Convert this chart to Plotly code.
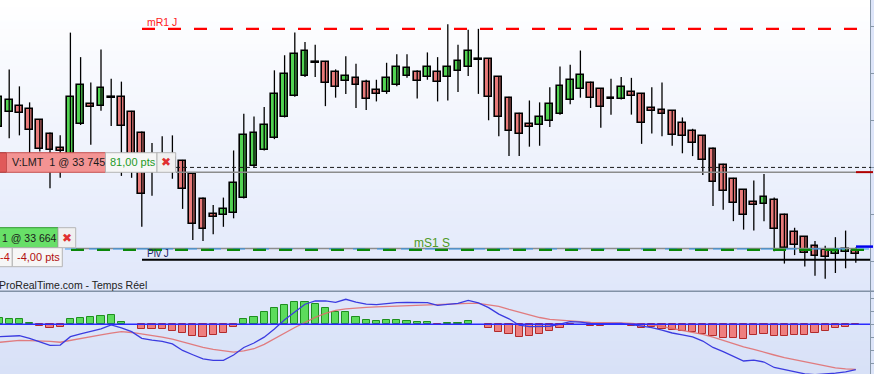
import plotly.graph_objects as go

# ---------------- data ----------------
opens = [33793, 33809, 33815, 33812, 33800, 33785, 33771, 33755, 33796, 33817,
         33815, 33825, 33825, 33809, 33787, 33763, 33758, 33749, 33757, 33743,
         33717, 33701, 33699, 33702, 33718, 33751, 33769, 33781, 33804, 33826,
         33847, 33861, 33862, 33851, 33842, 33845, 33841, 33832, 33830, 33837,
         33847, 33851, 33846, 33851, 33846, 33852, 33857, 33865, 33865, 33846,
         33824, 33807, 33796, 33795, 33799, 33807, 33822, 33833, 33840, 33833,
         33824, 33823, 33830, 33828, 33813, 33811, 33810, 33797, 33789, 33783,
         33770, 33753, 33738, 33726, 33713, 33711, 33715, 33700, 33682, 33676,
         33667, 33662, 33658, 33660, 33661]
highs = [33830, 33854, 33836, 33819, 33801, 33787, 33784, 33893, 33867, 33840,
         33875, 33844, 33841, 33810, 33788, 33776, 33783, 33784, 33758, 33744,
         33718, 33710, 33718, 33768, 33807, 33804, 33814, 33853, 33869, 33893,
         33883, 33880, 33863, 33854, 33868, 33860, 33843, 33843, 33861, 33870,
         33870, 33853, 33872, 33867, 33902, 33880, 33896, 33897, 33866, 33847,
         33825, 33808, 33821, 33819, 33835, 33857, 33859, 33874, 33841, 33834,
         33844, 33846, 33845, 33829, 33835, 33840, 33811, 33803, 33791, 33784,
         33771, 33754, 33739, 33727, 33736, 33743, 33718, 33701, 33686, 33677,
         33672, 33667, 33676, 33683, 33665]
lows = [33790, 33781, 33784, 33763, 33767, 33728, 33739, 33748, 33795, 33774,
        33810, 33794, 33741, 33739, 33687, 33720, 33746, 33738, 33706, 33673,
        33672, 33679, 33687, 33696, 33717, 33750, 33768, 33780, 33803, 33825,
        33846, 33846, 33815, 33824, 33828, 33813, 33811, 33820, 33828, 33836,
        33845, 33823, 33843, 33820, 33821, 33830, 33847, 33828, 33800, 33783,
        33762, 33762, 33772, 33773, 33793, 33806, 33817, 33824, 33813, 33792,
        33806, 33822, 33806, 33775, 33786, 33783, 33773, 33765, 33762, 33742,
        33709, 33705, 33693, 33684, 33683, 33693, 33661, 33648, 33657, 33645,
        33635, 33632, 33638, 33643, 33649]
closes = [33825, 33821, 33808, 33790, 33770, 33768, 33767, 33825, 33837, 33814,
          33834, 33824, 33794, 33753, 33722, 33752, 33749, 33760, 33727, 33690,
          33685, 33697, 33706, 33734, 33784, 33787, 33795, 33828, 33849, 33870,
          33873, 33862, 33840, 33835, 33847, 33837, 33823, 33828, 33845, 33857,
          33855, 33842, 33856, 33841, 33856, 33863, 33874, 33864, 33825, 33804,
          33789, 33785, 33793, 33803, 33817, 33836, 33843, 33848, 33824, 33814,
          33823, 33835, 33826, 33797, 33810, 33807, 33784, 33783, 33776, 33758,
          33735, 33725, 33712, 33699, 33710, 33719, 33685, 33665, 33668, 33659,
          33656, 33655, 33662, 33663, 33658]

macd_line = [-9.5, -9.2, -8.8, -10.8, -13.4, -16.2, -16.0, -9.5, -7.3, -5.5,
             -3.6, -0.5, -2.7, -5.7, -10.8, -12.2, -13.2, -15.1, -20.1, -23.4,
             -26.6, -27.7, -27.7, -23.6, -17.8, -14.4, -9.9, -3.6, 3.4, 9.4,
             15.4, 17.9, 17.9, 16.8, 19.2, 17.1, 15.5, 15.1, 15.9, 16.6,
             16.9, 16.9, 16.7, 14.5, 15.3, 16.0, 18.4, 16.4, 12.8, 7.8,
             4.2, -0.7, -1.8, -1.8, -1.5, 0.2, 2.0, 1.7, 0.7, 0.5,
             0.6, 0.7, -0.2, -1.6, -2.5, -4.5, -6.7, -8.1, -9.7, -12.9,
             -17.8, -21.0, -24.4, -28.2, -27.6, -29.0, -33.2, -34.8, -36.6, -38.1,
             -38.7, -38.4, -37.6, -36.5, -34.8]
signal_line = [-13.9, -13.2, -12.4, -12.5, -12.6, -13.2, -13.8, -12.3, -10.7, -9.4,
               -8.1, -6.8, -5.7, -6.3, -7.4, -8.5, -9.8, -11.4, -13.7, -15.8,
               -17.8, -19.3, -20.6, -21.4, -20.5, -18.8, -15.4, -11.1, -6.5, -2.5,
               1.4, 5.3, 8.3, 10.7, 11.8, 12.6, 13.0, 13.4, 13.7, 14.2,
               14.7, 15.1, 15.4, 15.5, 15.6, 16.0, 16.1, 16.1, 15.2, 13.8,
               11.5, 9.4, 7.5, 5.2, 3.8, 3.1, 2.4, 1.8, 1.4, 1.3,
               1.3, 1.0, 0.7, 0.4, -0.4, -1.7, -3.2, -4.7, -5.9, -7.8,
               -9.9, -12.5, -14.9, -17.3, -19.3, -21.2, -23.6, -25.6, -27.2, -29.0,
               -30.8, -32.4, -33.5, -34.3, -34.6]
histogram = [4.6, 3.8, 3.8, 1.0, -1.1, -3.1, -2.3, 3.8, 4.8, 5.6,
             6.4, 7.2, 1.8, 0.0, -3.8, -3.8, -3.8, -4.9, -6.9, -9.0,
             -10.0, -8.5, -6.9, -2.3, 3.8, 5.6, 9.2, 12.3, 14.6, 16.9,
             16.9, 15.4, 12.3, 9.2, 9.2, 5.4, 3.1, 2.3, 3.1, 3.1,
             2.3, 1.5, 1.5, -0.8, 0.8, 0.8, 2.3, 0.0, -3.1, -6.2,
             -7.7, -10.0, -9.2, -7.7, -5.4, -3.1, -0.8, 0.0, -1.5, -1.5,
             -0.8, 0.0, -1.5, -3.1, -2.3, -3.8, -4.6, -5.4, -6.2, -7.7,
             -9.2, -10.8, -10.8, -11.5, -8.5, -7.7, -9.2, -9.2, -8.5, -8.5,
             -6.9, -5.4, -3.1, -2.3, -0.8]

level_mR1 = 33897
level_stop_dash = 33750
order_sell = 33745
order_buy = 33664
level_blue = 33663.5
level_mS1 = 33662.5
level_piv = 33652
last_marker = 33666

# ---------------- geometry helpers (layout only) ----------------
W, H = 874, 374
PW = 870
MAIN_BOTTOM_PX = 291
MACD_TOP_PX = 292


def px(x):
    return x / PW


def py(y):
    return (H - y) / H


n = len(opens)
xs = list(range(n))
X0 = 0.098
X1 = X0 + PW / 10.2

FONT = "Liberation Sans, Arial, sans-serif"

fig = go.Figure()

# wicks
wx, wy = [], []
for i in xs:
    wx += [i, i, None]
    wy += [lows[i], highs[i], None]
fig.add_trace(go.Scatter(x=wx, y=wy, mode="lines", line=dict(color="#000000", width=1.3),
                         hoverinfo="skip", xaxis="x", yaxis="y"))

# bodies
base = [min(o, c) for o, c in zip(opens, closes)]
span = [abs(c - o) for o, c in zip(opens, closes)]
body_colors = []
for o, c in zip(opens, closes):
    if abs(c - o) <= 1:
        body_colors.append("#000000")
    elif c > o:
        body_colors.append("#52d452")
    else:
        body_colors.append("#e97a7a")
fig.add_trace(go.Bar(x=xs, y=span, base=base, width=0.68,
                     marker=dict(color=body_colors, line=dict(color="#000000", width=1.6)),
                     hoverinfo="skip", xaxis="x", yaxis="y"))

# MACD histogram
hvals = [v if v != 0 else None for v in histogram]
hcol = ["#5cdc5c" if (v or 0) > 0 else "#ee7f7f" for v in histogram]
hline = ["#1f8f1f" if (v or 0) > 0 else "#b22b2b" for v in histogram]
fig.add_trace(go.Bar(x=xs, y=hvals, width=0.72,
                     marker=dict(color=hcol, line=dict(color=hline, width=1)),
                     hoverinfo="skip", xaxis="x2", yaxis="y2"))
fig.add_trace(go.Scatter(x=xs, y=signal_line, mode="lines",
                         line=dict(color="#e26a6a", width=1.3), opacity=0.85,
                         hoverinfo="skip", xaxis="x2", yaxis="y2"))
fig.add_trace(go.Scatter(x=xs, y=macd_line, mode="lines",
                         line=dict(color="#3b3be0", width=1.3),
                         hoverinfo="skip", xaxis="x2", yaxis="y2"))

shapes = []


def mix(c0, c1, t):
    return "rgb(%d,%d,%d)" % tuple(round(a + (b - a) * t) for a, b in zip(c0, c1))


# background gradient of the price panel
N = 40
top_c, bot_c = (255, 255, 255), (224, 231, 250)
for i in range(N):
    y0p = MAIN_BOTTOM_PX * i / N
    y1p = MAIN_BOTTOM_PX * (i + 1) / N + 0.8
    shapes.append(dict(type="rect", xref="paper", yref="paper", x0=0, x1=1,
                       y0=py(min(y1p, MAIN_BOTTOM_PX)), y1=py(y0p),
                       fillcolor=mix(top_c, bot_c, (i + 0.5) / N), line=dict(width=0), layer="below"))
# MACD panel background
M = 10
mt, mb = (223, 231, 250), (216, 225, 247)
for i in range(M):
    y0p = MACD_TOP_PX + (H - MACD_TOP_PX) * i / M
    y1p = MACD_TOP_PX + (H - MACD_TOP_PX) * (i + 1) / M + 0.8
    shapes.append(dict(type="rect", xref="paper", yref="paper", x0=0, x1=1,
                       y0=py(min(y1p, H)), y1=py(y0p),
                       fillcolor=mix(mt, mb, (i + 0.5) / M), line=dict(width=0), layer="below"))


def hline_shape(y, x0p, x1p, color, width, dash="solid", yref="y"):
    return dict(type="line", xref="paper", yref=yref, x0=px(x0p), x1=px(x1p), y0=y, y1=y,
                line=dict(color=color, width=width, dash=dash))


shapes += [
    hline_shape(level_mR1, 142, 870, "#ff0000", 2.3, "13px,13px"),
    hline_shape(level_stop_dash, 176, 871, "#1a1a1a", 1, "4px,3px"),
    hline_shape(order_sell, 176, 856, "#8c8c8c", 1.5),
    hline_shape(order_sell, 856, 873, "#b00000", 2),
    hline_shape(order_buy, 76, 856, "#8c8c8c", 1.5),
    hline_shape(last_marker, 856, 873, "#0000ee", 2.5),
    hline_shape(level_blue, 65, 870, "#2b95f0", 1, "12px,12px"),
    hline_shape(level_mS1, 71, 870, "#0a870a", 2.3, "13px,13px"),
    hline_shape(level_piv, 142, 870, "#000000", 2),
    hline_shape(0, 0, 870, "#2b2bff", 1.5, yref="y2"),
]
# panel separator
shapes.append(dict(type="line", xref="paper", yref="paper", x0=0, x1=px(874), y0=py(291.3), y1=py(291.3),
                   line=dict(color="#8292a6", width=1.5)))


def rect(x0p, y0p, x1p, y1p, fill, line_color, lw=1):
    return dict(type="rect", xref="paper", yref="paper", x0=px(x0p), x1=px(x1p), y0=py(y1p), y1=py(y0p),
                fillcolor=fill, line=dict(color=line_color, width=lw), layer="above")


# order tickets
shapes += [
    rect(-6, 152.7, 6.5, 172.3, "#e05a5a", "#a83030"),
    rect(6.5, 152.7, 105.5, 172.3, "#f39393", "#c65050"),
    rect(105.5, 152.7, 157, 172.3, "#f6f6f6", "#b5b5b5"),
    rect(157, 152.7, 175.7, 172.3, "#f0f0f0", "#b5b5b5"),
    rect(-6, 227.7, 58, 247.7, "#68df68", "#2c9a2c"),
    rect(58, 227.7, 75.7, 247.7, "#f0f0f0", "#b5b5b5"),
    rect(-6, 247.7, 12.3, 266.7, "#f6f6f6", "#b5b5b5"),
    rect(12.3, 247.7, 62.3, 266.7, "#f6f6f6", "#b5b5b5"),
]

annotations = []


def label(text, xp, yp, size, color, anchor="left", bold=False):
    annotations.append(dict(text=("<b>%s</b>" % text) if bold else text, xref="paper", yref="paper",
                            x=px(xp), y=py(yp), xanchor=anchor, yanchor="middle", showarrow=False,
                            font=dict(family=FONT, size=size, color=color), borderpad=0))


label("mR1 J", 146, 22, 10.5, "#ff1a1a")
label("mS1 S", 413, 242.5, 12, "#4f9a25")
label("Piv J", 146, 253, 10, "#1c2466")
label("ProRealTime.com - Temps Réel", -2, 285, 10.5, "#222222")
label("V:LMT  1 @ 33 745", 11, 162.5, 10.8, "#1a1a1a")
label("81,00 pts", 109, 162.5, 11, "#1e9a1e")
label("✖", 166.3, 162.5, 12, "#e03030", anchor="center")
label("1 @ 33 664", 1, 237.7, 10.5, "#1a1a1a")
label("✖", 66.8, 237.7, 12, "#e03030", anchor="center")
label("-4", 11, 257.2, 11, "#c01010", anchor="right")
label("-4,00 pts", 16, 257.2, 11, "#b01010")

axis_line = "#8898aa"
fig.update_layout(
    width=W, height=H, margin=dict(l=0, r=4, t=0, b=0),
    paper_bgcolor="#dde5f9", plot_bgcolor="rgba(0,0,0,0)",
    showlegend=False, barmode="overlay", bargap=0,
    xaxis=dict(domain=[0, 1], range=[X0, X1], visible=False, anchor="y", fixedrange=True),
    yaxis=dict(domain=[(H - MAIN_BOTTOM_PX) / H, 1], range=[33618.9, 33927.6], side="right",
               showgrid=False, zeroline=False, showticklabels=False, ticks="outside", ticklen=4,
               tickcolor=axis_line, tick0=33650, dtick=50, showline=True, linecolor=axis_line,
               linewidth=1, fixedrange=True),
    xaxis2=dict(domain=[0, 1], range=[X0, X1], visible=False, anchor="y2", matches="x"),
    yaxis2=dict(domain=[0, (H - MACD_TOP_PX) / H], range=[-38.2, 24.8], side="right",
                showgrid=False, zeroline=False, showticklabels=False, ticks="outside", ticklen=4,
                tickcolor=axis_line, tick0=0, dtick=10, showline=True, linecolor=axis_line,
                linewidth=1, fixedrange=True),
    shapes=shapes, annotations=annotations,
)

fig.write_html("out.html", config=dict(displayModeBar=False))
